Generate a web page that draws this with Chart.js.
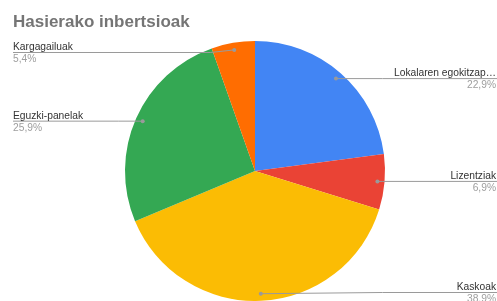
<!DOCTYPE html>
<html>
<head>
<meta charset="utf-8">
<script src="https://cdn.jsdelivr.net/npm/chart.js@4"></script>
<style>
  html, body { margin: 0; padding: 0; background: #fff; }
  #c { display: block; }
</style>
</head>
<body>
<canvas id="c" width="497" height="301"></canvas>
<script>
const chartTitle = "Hasierako inbertsioak";
const categories = ["Lokalaren egokitzap…", "Lizentziak", "Kaskoak", "Eguzki-panelak", "Kargagailuak"];
const values = [22.9, 6.9, 38.9, 25.9, 5.4];
const colors = ["#4285F4", "#EA4335", "#FBBC04", "#34A853", "#FF6D01"];

const FONT = '"Liberation Sans", Arial, sans-serif';

const labelPlugin = {
  id: 'pieLabels',
  afterDraw(chart) {
    const ctx = chart.ctx;
    const meta = chart.getDatasetMeta(0);
    const total = values.reduce((a, b) => a + b, 0);
    ctx.save();
    // Title
    ctx.font = 'bold 17px ' + FONT;
    ctx.fillStyle = '#757575';
    ctx.textAlign = 'left';
    ctx.textBaseline = 'alphabetic';
    ctx.fillText(chartTitle, 13, 26.5);

    meta.data.forEach((arc, i) => {
      const p = arc.getProps(['x', 'y', 'startAngle', 'endAngle', 'outerRadius'], true);
      const mid = (p.startAngle + p.endAngle) / 2;
      const r = p.outerRadius * 0.945;
      const dx = p.x + Math.cos(mid) * r;
      const dy = p.y + Math.sin(mid) * r;
      const right = Math.cos(mid) >= 0;
      let ly = Math.min(Math.max(dy, 52.5), 292.5);
      let ex, endX, tx;
      if (right) {
        ex = Math.max(dx, p.x + p.outerRadius * 0.98);
        endX = 497;
        tx = 496;
      } else {
        ex = Math.min(dx, dx - 24);
        endX = 13;
        tx = 13;
      }
      ctx.strokeStyle = '#9a9a9a';
      ctx.lineWidth = 1;
      ctx.beginPath();
      ctx.moveTo(dx, dy);
      ctx.lineTo(ex, ly);
      ctx.lineTo(endX, ly);
      ctx.stroke();
      ctx.fillStyle = '#9a9a9a';
      ctx.beginPath();
      ctx.arc(dx, dy, 2, 0, Math.PI * 2);
      ctx.fill();

      ctx.textAlign = right ? 'right' : 'left';
      ctx.font = '10.25px ' + FONT;
      ctx.fillStyle = '#333333';
      ctx.fillText(categories[i], tx, ly - 2.5);
      ctx.fillStyle = '#9e9e9e';
      const pct = (values[i] / total * 100).toFixed(1).replace('.', ',') + '%';
      ctx.fillText(pct, tx, ly + 9.5);
    });
    ctx.restore();
  }
};

new Chart(document.getElementById('c'), {
  type: 'pie',
  data: {
    labels: categories,
    datasets: [{
      data: values,
      backgroundColor: colors,
      borderWidth: 0
    }]
  },
  options: {
    responsive: false,
    animation: false,
    layout: { padding: { top: 41, bottom: 0, left: 125, right: 112 } },
    plugins: {
      legend: { display: false },
      tooltip: { enabled: false },
      title: { display: false }
    }
  },
  plugins: [labelPlugin]
});
</script>
</body>
</html>
